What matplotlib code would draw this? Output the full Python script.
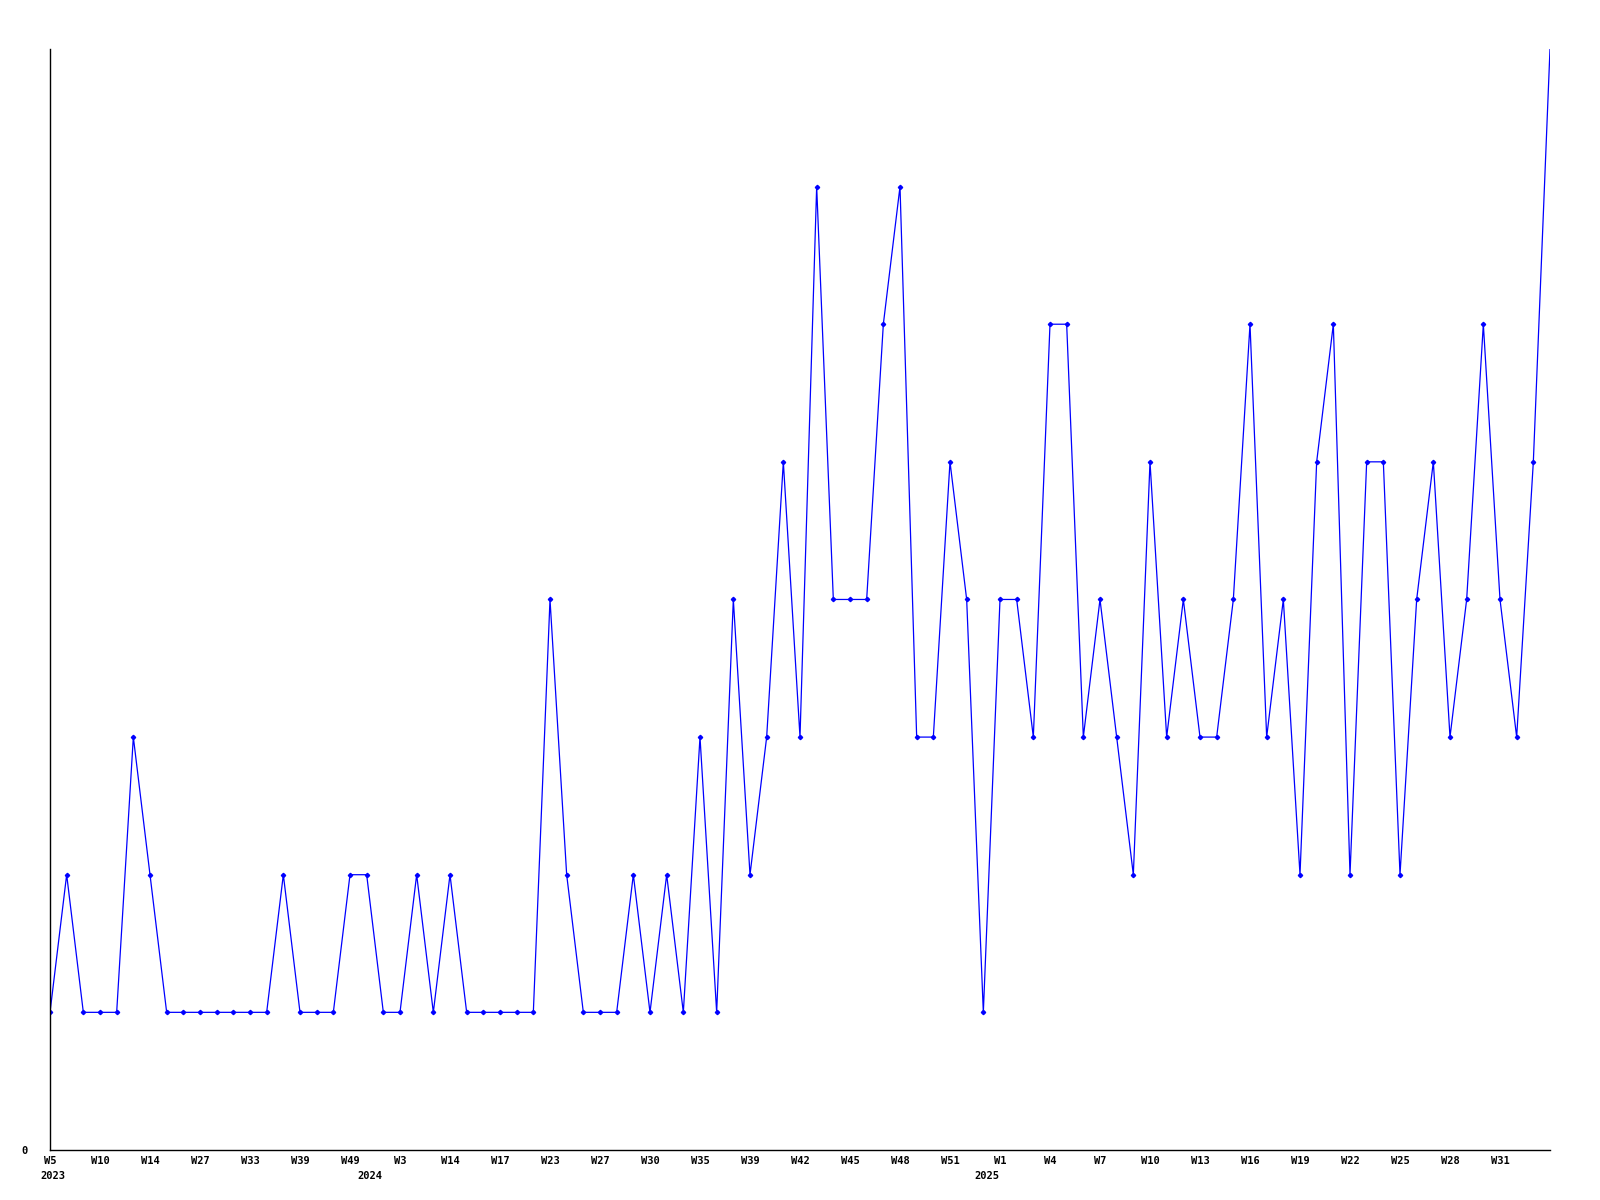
import matplotlib
matplotlib.use('Agg')
import matplotlib.pyplot as plt
import matplotlib.transforms as mtransforms

# weekly counts, oldest first
counts = [1, 2, 1, 1, 1, 3, 2, 1, 1, 1,
          1, 1, 1, 1, 2, 1, 1, 1, 2, 2,
          1, 1, 2, 1, 2, 1, 1, 1, 1, 1,
          4, 2, 1, 1, 1, 2, 1, 2, 1, 3,
          1, 4, 2, 3, 5, 3, 7, 4, 4, 4,
          6, 7, 3, 3, 5, 4, 1, 4, 4, 3,
          6, 6, 3, 4, 3, 2, 5, 3, 4, 3,
          3, 4, 6, 3, 4, 2, 5, 6, 2, 5,
          5, 2, 4, 5, 3, 4, 6, 4, 3, 5,
          8]

# labelled weeks (every third point)
week_labels = ['W5', 'W10', 'W14', 'W27', 'W33', 'W39', 'W49', 'W3', 'W14', 'W17',
               'W23', 'W27', 'W30', 'W35', 'W39', 'W42', 'W45', 'W48', 'W51', 'W1',
               'W4', 'W7', 'W10', 'W13', 'W16', 'W19', 'W22', 'W25', 'W28', 'W31']
years = ['2023', '2024', '2025']
year_at = [0.2, 19.2, 56.2]

x = list(range(len(counts)))
tick_pos = x[::3][:len(week_labels)]

fig = plt.figure(figsize=(16, 12), dpi=100)
ax = fig.add_axes([0.03125, 0.0417, 0.9375, 0.9175])

# last point sits on the top edge, no marker drawn there in the original
ax.plot(x, counts, color='#0000ff', lw=0.9, marker='D', markersize=2.2,
        markevery=list(range(len(counts) - 1)))

ax.set_xlim(0, len(counts) - 1)
ax.set_ylim(0, max(counts))

for s in ['top', 'right']:
    ax.spines[s].set_visible(False)
for s in ['left', 'bottom']:
    ax.spines[s].set_linewidth(1.0)

font = dict(family='DejaVu Sans Mono', weight='bold', size=7.5)
ax.set_xticks(tick_pos)
ax.set_xticklabels(week_labels, **font)
ax.set_yticks([0])
ax.set_yticklabels(['0'], **font)
ax.tick_params(axis='x', length=0, pad=4)
ax.tick_params(axis='y', length=0, pad=16)

trans = mtransforms.blended_transform_factory(ax.transData, ax.transAxes)
for yr, pos in zip(years, year_at):
    ax.text(pos, -0.0235, yr, transform=trans, ha='center', va='center', **font)

fig.savefig('out.png', dpi=100)
